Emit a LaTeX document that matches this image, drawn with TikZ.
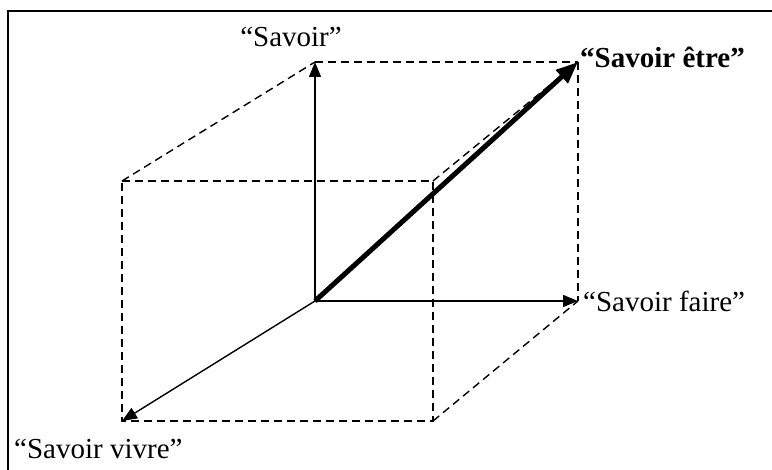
\documentclass[tikz,border=0pt]{standalone}
\usepackage{fontspec}
\setmainfont{Liberation Serif}
\usetikzlibrary{arrows.meta}

\begin{document}
\begin{tikzpicture}[
    x=1pt, y=-1pt,
    axis/.style  = {-{Triangle[length=15pt, width=12pt]}, line width=1.4pt},
    main/.style  = {-{Triangle[length=22pt, width=17pt]}, line width=5pt},
    edge/.style  = {dash pattern=on 8pt off 5pt, line width=1.4pt},
    lbl/.style   = {font=\fontsize{29}{33}\selectfont, inner sep=0pt},
  ]
  \useasboundingbox (0,0) rectangle (772,470);
  \draw[line width=2.5pt] (8,470) -- (8,11) -- (772,11);

  % corners of the cube
  \coordinate (o)    at (315,301);
  \coordinate (top)  at (315,62);
  \coordinate (topr) at (578,62);
  \coordinate (rgt)  at (578,301);
  \coordinate (ftl)  at (122,181);
  \coordinate (ftr)  at (433,181);
  \coordinate (fbl)  at (122,421);
  \coordinate (fbr)  at (433,421);

  \draw[edge] (ftl) -- (ftr) -- (fbr) -- (fbl) -- cycle;
  \foreach \a/\b in {ftl/top, top/topr, topr/rgt, ftr/topr, fbr/rgt}
    \draw[edge] (\a) -- (\b);

  % the three axes and the resultant
  \foreach \b in {top, rgt, fbl}
    \draw[axis] (o) -- (\b);
  \draw[main] (o) -- (topr);

  \node[lbl, anchor=base] (savoir) at (291,47) {“Savoir”};
  \node[lbl, anchor=base west, font=\fontsize{29}{33}\selectfont\bfseries] (etre) at (580,68) {“Savoir être”};
  \node[lbl, anchor=base west] (faire) at (583,312) {“Savoir faire”};
  \node[lbl, anchor=base west] (vivre) at (14,459) {“Savoir vivre”};
\end{tikzpicture}
\end{document}
